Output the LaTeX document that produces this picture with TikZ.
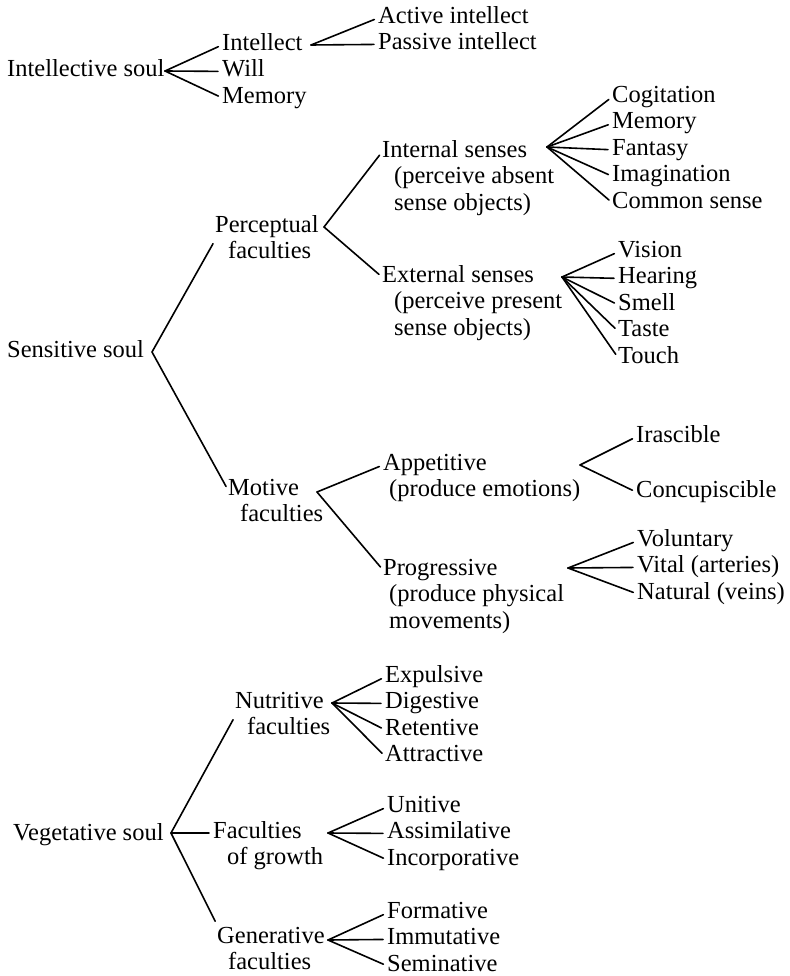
\documentclass[tikz,border=0pt]{standalone}
\usepackage{fontspec}
\setmainfont{Liberation Serif}
\usepackage{tikz}
\usetikzlibrary{arrows,calc,positioning}
\tikzset{
        term/.style = {anchor=west, inner sep=0pt,
            font=\fontsize{24.5}{26}\selectfont,
            text height=18.5pt, text depth=7.5pt},
        branch/.style = {draw, line width=1.6pt, line cap=round,
            shorten >=4pt},
    }

\begin{document}
\begin{tikzpicture}[x=1pt, y=-1pt]
                \useasboundingbox (0,0) rectangle (789,976);

                % intellective soul
                \node[term] (is) at (7,71) {Intellective soul};
                \node[term] (intl) at (222,45) {Intellect};
                \node[term, below right=0pt and 0pt of intl.south west] (will) {Will};
                \node[term, below right=0pt and 0pt of will.south west] (memi) {Memory};
                \node[term] (act) at (378,18) {Active intellect};
                \node[term, below right=0pt and 0pt of act.south west] (pas) {Passive intellect};
                \coordinate (isb) at (165,71);
                \coordinate (intlb) at (311,45);

                % sensitive soul
                \node[term] (ss) at (7,352) {Sensitive soul};
                \node[term] (perc) at (215,227) {Perceptual};
                \node[term, below right=0pt and 13pt of perc.south west] (percf) {faculties};
                \node[term] (ints) at (382,152) {Internal senses};
                \node[term, below right=0pt and 12pt of ints.south west] (intsa) {(perceive absent};
                \node[term, below right=0pt and 0pt of intsa.south west] (intsb) {sense objects)};
                \node[term] (exts) at (382,277) {External senses};
                \node[term, below right=0pt and 12pt of exts.south west] (extsa) {(perceive present};
                \node[term, below right=0pt and 0pt of extsa.south west] (extsb) {sense objects)};

                \node[term] (cog) at (612,97) {Cogitation};
                \node[term, below right=0pt and 0pt of cog.south west] (mem) {Memory};
                \node[term, below right=0pt and 0pt of mem.south west] (fan) {Fantasy};
                \node[term, below right=0pt and 0pt of fan.south west] (ima) {Imagination};
                \node[term, below right=0pt and 0pt of ima.south west] (com) {Common sense};

                \node[term] (vis) at (618,252) {Vision};
                \node[term, below right=0pt and 0pt of vis.south west] (hea) {Hearing};
                \node[term, below right=0pt and 0pt of hea.south west] (sme) {Smell};
                \node[term, below right=0pt and 0pt of sme.south west] (tas) {Taste};
                \node[term, below right=0pt and 0pt of tas.south west] (tou) {Touch};

                \node[term] (mot) at (228,490) {Motive};
                \node[term, below right=0pt and 12pt of mot.south west] (motf) {faculties};
                \node[term] (app) at (383,465) {Appetitive};
                \node[term, below right=0pt and 6pt of app.south west] (appa) {(produce emotions)};
                \node[term] (ira) at (636,437) {Irascible};
                \node[term] (con) at (636,492) {Concupiscible};
                \node[term] (pro) at (383,570) {Progressive};
                \node[term, below right=0pt and 6pt of pro.south west] (proa) {(produce physical};
                \node[term, below right=0pt and 0pt of proa.south west] (prob) {movements)};
                \node[term] (vol) at (637,541) {Voluntary};
                \node[term, below right=0pt and 0pt of vol.south west] (vit) {Vital (arteries)};
                \node[term, below right=0pt and 0pt of vit.south west] (nat) {Natural (veins)};

                \coordinate (ssb) at (152,352);
                \coordinate (percb) at (324,227);
                \coordinate (intsbp) at (547,147);
                \coordinate (extsbp) at (562,277);
                \coordinate (motb) at (317,492);
                \coordinate (appb) at (580,465);
                \coordinate (prob2) at (568,568);

                % vegetative soul
                \node[term] (vs) at (13,835) {Vegetative soul};
                \node[term] (nut) at (235,703) {Nutritive};
                \node[term, below right=0pt and 12pt of nut.south west] (nutf) {faculties};
                \node[term] (expu) at (385,677) {Expulsive};
                \node[term, below right=0pt and 0pt of expu.south west] (dig) {Digestive};
                \node[term, below right=0pt and 0pt of dig.south west] (ret) {Retentive};
                \node[term, below right=0pt and 0pt of ret.south west] (att) {Attractive};
                \node[term] (gro) at (213,833) {Faculties};
                \node[term, below right=0pt and 14pt of gro.south west] (grof) {of growth};
                \node[term] (uni) at (387,807) {Unitive};
                \node[term, below right=0pt and 0pt of uni.south west] (ass) {Assimilative};
                \node[term, below right=0pt and 0pt of ass.south west] (inc) {Incorporative};
                \node[term] (gen) at (217,938) {Generative};
                \node[term, below right=0pt and 11pt of gen.south west] (genf) {faculties};
                \node[term] (frm) at (387,913) {Formative};
                \node[term, below right=0pt and 0pt of frm.south west] (imm) {Immutative};
                \node[term, below right=0pt and 0pt of imm.south west] (sem) {Seminative};

                \coordinate (vsb) at (171,833);
                \coordinate (nutb) at (332,703);
                \coordinate (grob) at (328,833);
                \coordinate (genb) at (328,940);

                % connectors
                \draw[branch] (isb) -- (intl.west);
                \draw[branch] (isb) -- (will.west);
                \draw[branch] (isb) -- (memi.west);
                \draw[branch] (intlb) -- (act.west);
                \draw[branch] (intlb) -- (pas.west);

                \draw[branch] (ssb) -- (perc.south west);
                \draw[branch] (ssb) -- (mot.west);
                \draw[branch] (percb) -- (ints.west);
                \draw[branch] (percb) -- (exts.west);
                \draw[branch] (intsbp) -- (cog.west);
                \draw[branch] (intsbp) -- (mem.west);
                \draw[branch] (intsbp) -- (fan.west);
                \draw[branch] (intsbp) -- (ima.west);
                \draw[branch] (intsbp) -- (com.west);
                \draw[branch] (extsbp) -- (vis.west);
                \draw[branch] (extsbp) -- (hea.west);
                \draw[branch] (extsbp) -- (sme.west);
                \draw[branch] (extsbp) -- (tas.west);
                \draw[branch] (extsbp) -- (tou.west);
                \draw[branch] (motb) -- (app.west);
                \draw[branch] (motb) -- (pro.west);
                \draw[branch] (appb) -- (ira.west);
                \draw[branch] (appb) -- (con.west);
                \draw[branch] (prob2) -- (vol.west);
                \draw[branch] (prob2) -- (vit.west);
                \draw[branch] (prob2) -- (nat.west);

                \draw[branch] (vsb) -- (nut.south west);
                \draw[branch] (vsb) -- (gro.west);
                \draw[branch] (vsb) -- (gen.north west);
                \draw[branch] (nutb) -- (expu.west);
                \draw[branch] (nutb) -- (dig.west);
                \draw[branch] (nutb) -- (ret.west);
                \draw[branch] (nutb) -- (att.west);
                \draw[branch] (grob) -- (uni.west);
                \draw[branch] (grob) -- (ass.west);
                \draw[branch] (grob) -- (inc.west);
                \draw[branch] (genb) -- (frm.west);
                \draw[branch] (genb) -- (imm.west);
                \draw[branch] (genb) -- (sem.west);
            \end{tikzpicture}
\end{document}
